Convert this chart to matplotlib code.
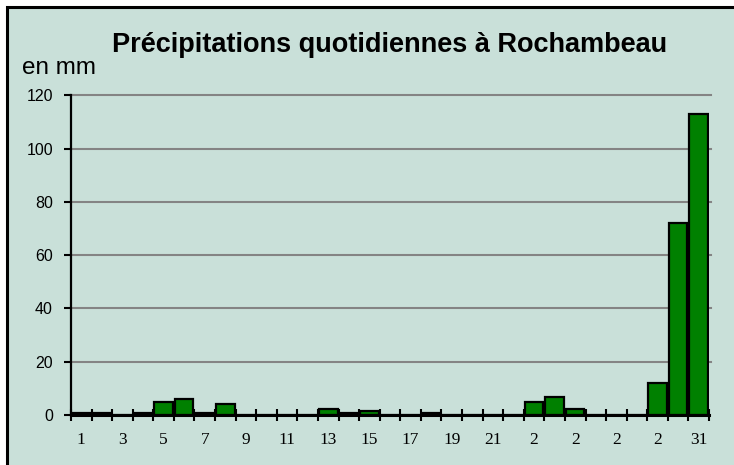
import matplotlib.pyplot as plt
from matplotlib.patches import Rectangle

# daily rainfall (mm), days 1..31
days = list(range(1, 32))
rain = [0.8, 0.8, 0, 0.8, 5.0, 6.0, 0.9, 4.1, 0, 0,
        0, 0, 2.4, 0.9, 1.6, 0, 0, 0.8, 0, 0,
        0, 0, 5.0, 6.8, 2.4, 0, 0, 0, 12.1, 72.2,
        113.0]
tick_days = list(range(1, 32, 2))
tick_labels = ["1", "3", "5", "7", "9", "11", "13", "15", "17", "19",
               "21", "2", "2", "2", "2", "31"]
y_ticks = [0, 20, 40, 60, 80, 100, 120]

BG = "#C9E0D9"

fig = plt.figure(figsize=(7.34, 4.65), dpi=100)
fig.patch.set_facecolor("white")

# chart area background with black frame
fig.patches.append(Rectangle((6.5 / 734, -0.05), 1.2, 1 - 7.5 / 465 + 0.05,
                             transform=fig.transFigure, facecolor=BG,
                             edgecolor="black", linewidth=2.2, zorder=-5))

ax = fig.add_axes([71 / 734, 1 - 415 / 465, 638 / 734, (415 - 95.3) / 465])
ax.set_facecolor("none")

ax.bar(days, rain, width=0.9, color="#008000", edgecolor="black",
       linewidth=1.6, zorder=3)

ax.set_xlim(0.5, 31.5)
ax.set_ylim(0, 120)
ax.set_yticks(y_ticks)
ax.set_yticklabels([str(v) for v in y_ticks], fontfamily="Liberation Sans",
                   fontsize=11.5)
for v in y_ticks[1:]:
    ax.plot([0.5, 31.6], [v, v], color="#848484", linewidth=1.5, zorder=1,
            clip_on=False)

ax.set_xticks([d + 0.5 for d in range(0, 32)], minor=False)
ax.set_xticklabels([])
ax.set_xticks(tick_days, minor=True)
ax.set_xticklabels(tick_labels, minor=True, fontfamily="Liberation Serif",
                   fontsize=12.5)
ax.tick_params(axis="x", which="major", direction="inout", length=9,
               width=1.5, color="black")
ax.tick_params(axis="x", which="minor", length=0, pad=12)
ax.tick_params(axis="y", direction="out", length=5, width=1.5, pad=8)

for s in ["top", "right"]:
    ax.spines[s].set_visible(False)
ax.spines["left"].set_linewidth(1.6)
ax.spines["bottom"].set_linewidth(2.2)
ax.spines["bottom"].set_zorder(4)

fig.text(390 / 734, 1 - 45 / 465, "Précipitations quotidiennes à Rochambeau",
         ha="center", va="center", fontfamily="Liberation Sans",
         fontweight="bold", fontsize=19.5)
fig.text(22 / 734, 1 - 68 / 465, "en mm", ha="left", va="center",
         fontfamily="Liberation Sans", fontsize=17.5)

fig.savefig("out.png", dpi=100)
